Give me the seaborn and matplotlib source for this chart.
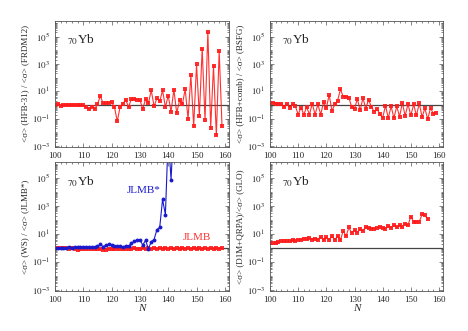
import numpy as np
import pandas as pd
import matplotlib
matplotlib.use("Agg")
import matplotlib.pyplot as plt
import matplotlib.ticker as mticker
import seaborn as sns

# neutron numbers
n_tl = list(range(100, 160))
n_tr = list(range(100, 160))
n_blue = list(range(100, 143))
n_red = list(range(100, 160))
n_br = list(range(100, 157))

# <sigma>(HFB-31) / <sigma>(FRDM12)
hfb31_frdm = [1.0, 1.2, 0.9, 1.0, 1.0, 1.0, 1.05, 1.0, 1.0, 1.0,
              1.0, 0.7, 0.5, 0.75, 0.5, 1.1, 4.5, 1.3, 1.3, 1.3,
              1.6, 0.7, 0.065, 0.7, 1.25, 2.4, 0.7, 2.9, 2.6, 2.4,
              2.3, 0.5, 2.7, 1.3, 11.7, 0.8, 3.0, 1.8, 11.7, 0.7,
              4.8, 0.33, 13, 0.25, 2.2, 1.1, 14.5, 0.095, 152, 0.028,
              907, 0.15, 13200, 0.077, 215000, 0.022, 730, 0.006, 8900, 0.028]

# <sigma>(HFB+comb) / <sigma>(BSFG)
hfbcomb_bsfg = [1.4, 1.45, 1.25, 1.25, 1.25, 0.68, 1.25, 0.65, 1.2, 0.8,
                0.2, 0.65, 0.2, 0.7, 0.2, 1.25, 0.2, 1.1, 0.2, 1.6,
                0.6, 5.4, 0.37, 1.1, 2.1, 13.7, 4.1, 4.1, 3.5, 0.7,
                0.52, 2.8, 0.4, 3.3, 0.52, 2.5, 0.7, 0.33, 0.47, 0.23,
                0.11, 0.9, 0.11, 0.8, 0.11, 0.8, 0.14, 1.4, 0.16, 1.2,
                0.17, 1.1, 0.17, 1.3, 0.13, 0.58, 0.09, 0.6, 0.23, 0.27]

# <sigma>(WS) / <sigma>(JLMB*)
ws_jlmbs = [1.0, 1.0, 1.0, 1.0, 1.0, 1.2, 1.0, 1.2, 1.2, 1.1,
            1.25, 1.1, 1.1, 1.1, 1.15, 1.3, 1.8, 1.25, 1.55, 1.8,
            1.7, 1.45, 1.3, 1.3, 1.15, 1.45, 1.3, 2.2, 3.0, 3.6,
            3.8, 1.6, 3.5, 0.85, 2.8, 4.0, 20, 30, 2900, 240,
            1e8, 7.4e4, 1e9]

# <sigma>(WS) / <sigma>(JLMB)
ws_jlmb = [0.95, 0.95, 0.95, 0.95, 0.95, 0.8, 0.95, 0.85, 0.75, 0.9,
           0.85, 0.9, 0.9, 0.9, 0.85, 0.8, 0.85, 0.75, 0.75, 0.8,
           0.85, 0.9, 0.9, 0.9, 0.85, 0.9, 0.9, 0.9, 0.95, 0.9,
           0.9, 0.95, 0.9, 0.95, 0.9, 0.95, 0.9, 0.95, 0.9, 0.95,
           0.9, 0.95, 0.9, 0.95, 0.9, 0.95, 0.9, 0.95, 0.9, 0.95,
           0.9, 0.95, 0.9, 0.95, 0.9, 0.95, 0.9, 0.95, 0.9, 0.95]

# <sigma>(D1M+QRPA) / <sigma>(GLO)
d1m_glo = [2.2, 2.1, 2.4, 2.6, 3.0, 3.0, 3.0, 3.2, 3.6, 3.2,
           4.0, 4.0, 4.4, 4.4, 5.0, 4.0, 4.7, 4.0, 6.2, 3.6,
           5.9, 3.6, 7.2, 3.6, 7.6, 3.6, 17, 6.8, 29, 11.5,
           19, 12.5, 22, 17, 32, 25, 24, 24, 27, 31,
           28, 23, 37, 28, 43, 29, 43, 32, 54, 42,
           175, 72, 72, 72, 256, 217, 112]

ylabels = ["<σ> (HFB-31) / <σ> (FRDM12)",
           "<σ> (HFB+comb) / <σ> (BSFG)",
           "<σ> (WS) / <σ> (JLMB*)",
           "<σ> (D1M+QRPA)/<σ> (GLO)"]

# labelled decades and the rest of the tick marks
major_y = [1e-3, 1e-1, 1e1, 1e3, 1e5]
minor_y = [m * 10.0 ** e for e in range(-4, 7) for m in range(1, 10)
           if not (m == 1 and e in (-3, -1, 1, 3, 5))]

sns.set_style("ticks")
plt.rcParams["font.family"] = ["Liberation Serif", "DejaVu Serif"]
plt.rcParams["mathtext.fontset"] = "stix"
plt.rcParams["xtick.direction"] = "in"
plt.rcParams["ytick.direction"] = "in"

fig = plt.figure(figsize=(4.68, 3.31), dpi=100)
ax_tl = fig.add_axes([0.1175, 0.556, 0.372, 0.381])
ax_tr = fig.add_axes([0.577, 0.556, 0.370, 0.381])
ax_bl = fig.add_axes([0.1175, 0.121, 0.372, 0.39])
ax_br = fig.add_axes([0.577, 0.121, 0.370, 0.39])
axes = [ax_tl, ax_tr, ax_bl, ax_br]

red_kw = dict(color="#ff1a1a", marker="s", markersize=3.3, markeredgewidth=0,
              linewidth=0.8, alpha=0.9)

sns.lineplot(x=n_tl, y=hfb31_frdm, ax=ax_tl, **red_kw)
sns.lineplot(x=n_tr, y=hfbcomb_bsfg, ax=ax_tr, **red_kw)
sns.lineplot(x=n_red, y=ws_jlmb, ax=ax_bl, **red_kw)
sns.lineplot(x=n_blue, y=ws_jlmbs, ax=ax_bl, color="#1a1acc", marker="o",
             markersize=2.8, markeredgewidth=0, linewidth=0.8)
sns.lineplot(x=n_br, y=d1m_glo, ax=ax_br, **red_kw)

for i, ax in enumerate(axes):
    ax.set_yscale("log")
    ax.set_ylim(8.5e-4, 1.4e6)
    ax.set_xlim(100, 161.5)
    ax.axhline(1, color="#444444", linewidth=0.9, zorder=0)
    ax.xaxis.set_major_locator(mticker.MultipleLocator(10))
    ax.xaxis.set_minor_locator(mticker.MultipleLocator(2))
    ax.yaxis.set_major_locator(mticker.FixedLocator(major_y))
    ax.yaxis.set_minor_locator(mticker.FixedLocator(minor_y))
    ax.yaxis.set_minor_formatter(mticker.NullFormatter())
    ax.yaxis.set_major_formatter(mticker.FuncFormatter(
        lambda v, p: r"$10^{%d}$" % round(np.log10(v))))
    ax.tick_params(which="both", top=True, right=True, labelsize=6.5, width=0.5, color="#555555")
    ax.tick_params(which="major", length=3)
    ax.tick_params(which="minor", length=1.5)
    for s in ax.spines.values():
        s.set_linewidth(0.6)
        s.set_color("#555555")
    ax.set_ylabel(ylabels[i], fontsize=6.5, labelpad=2)
    ax.set_xlabel("")
    ax.text(0.07, 0.82, r"$_{70}$Yb", transform=ax.transAxes, fontsize=9.5)

ax_bl.set_xlabel("N", fontsize=8, style="italic", labelpad=0)
ax_br.set_xlabel("N", fontsize=8, style="italic", labelpad=0)

ax_bl.text(125.3, 1.3e4, "JLMB*", color="#1a1acc", fontsize=8, va="center")
ax_bl.text(145, 5.3, "JLMB", color="#ff3333", fontsize=8, va="center")

fig.savefig("out.png", dpi=100)
